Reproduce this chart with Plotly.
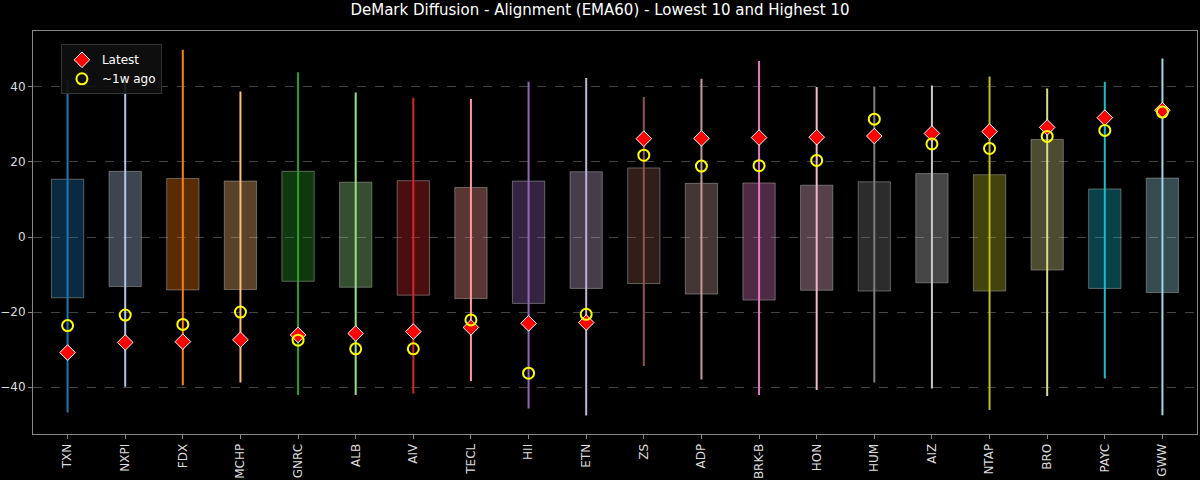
import plotly.graph_objects as go

# tickers, sorted from lowest to highest latest value
tickers = ["TXN", "NXPI", "FDX", "MCHP", "GNRC", "ALB", "AIV", "TECL", "HII", "ETN",
           "ZS", "ADP", "BRK-B", "HON", "HUM", "AIZ", "NTAP", "BRO", "PAYC", "GWW"]

# range (min / max) of each series
lowVal = [-46.8, -39.9, -39.5, -38.8, -42.1, -42.1, -41.7, -38.4, -45.7, -47.6,
          -34.4, -38.0, -42.1, -40.8, -38.8, -40.4, -46.1, -42.4, -37.7, -47.5]
highVal = [42.0, 42.5, 49.9, 38.8, 43.9, 38.5, 37.1, 36.8, 41.4, 42.4,
           37.3, 42.2, 46.9, 40.0, 40.1, 40.4, 42.8, 39.6, 41.4, 47.6]

# box (interquartile) bounds
q1Val = [-16.2, -13.2, -14.1, -14.0, -11.8, -13.4, -15.5, -16.4, -17.7, -13.7,
         -12.4, -15.2, -16.8, -14.2, -14.4, -12.2, -14.4, -8.8, -13.7, -14.8]
q3Val = [15.4, 17.5, 15.6, 14.9, 17.5, 14.6, 15.0, 13.2, 14.9, 17.4,
         18.4, 14.3, 14.4, 13.8, 14.7, 16.9, 16.6, 26.0, 12.8, 15.7]

latestVal = [-30.8, -28.1, -27.9, -27.4, -26.1, -25.7, -25.2, -24.1, -23.0, -22.8,
             26.2, 26.3, 26.5, 26.6, 26.9, 27.6, 28.1, 29.2, 31.8, 33.8]
weekAgoVal = [-23.6, -20.8, -23.3, -20.0, -27.5, -29.8, -29.8, -22.1, -36.3, -20.6,
              21.8, 18.9, 19.0, 20.4, 31.4, 24.8, 23.6, 26.8, 28.4, 33.3]

yTicks = [-40, -20, 0, 20, 40]

# tab20 palette
palette = ["#1f77b4", "#aec7e8", "#ff7f0e", "#ffbb78", "#2ca02c", "#98df8a",
           "#d62728", "#ff9896", "#9467bd", "#c5b0d5", "#8c564b", "#c49c94",
           "#e377c2", "#f7b6d2", "#7f7f7f", "#c7c7c7", "#bcbd22", "#dbdb8d",
           "#17becf", "#9edae5"]


def toRgba(hexColor, alpha):
    h = hexColor.lstrip("#")
    r, g, b = int(h[0:2], 16), int(h[2:4], 16), int(h[4:6], 16)
    return "rgba(%d,%d,%d,%.2f)" % (r, g, b, alpha)


fig = go.Figure()

fig.add_trace(go.Bar(x=tickers,
                     y=[hi - lo for lo, hi in zip(q1Val, q3Val)],
                     base=q1Val,
                     width=0.56,
                     marker=dict(color=[toRgba(c, 0.35) for c in palette],
                                 line=dict(color="rgba(190,190,190,0.45)", width=1)),
                     showlegend=False,
                     hoverinfo="skip"))

for i, t in enumerate(tickers):
    fig.add_trace(go.Scatter(x=[t, t],
                             y=[lowVal[i], highVal[i]],
                             mode="lines",
                             line=dict(color=palette[i], width=2),
                             showlegend=False,
                             hoverinfo="skip"))

fig.add_trace(go.Scatter(x=tickers,
                         y=latestVal,
                         mode="markers",
                         name="Latest",
                         marker=dict(symbol="diamond", size=12, color="red",
                                     line=dict(color="white", width=1))))
fig.add_trace(go.Scatter(x=tickers,
                         y=weekAgoVal,
                         mode="markers",
                         name="~1w ago",
                         marker=dict(symbol="circle-open", size=11, color="yellow",
                                     line=dict(color="yellow", width=2))))

fig.update_layout(
    width=1200, height=480,
    paper_bgcolor="black", plot_bgcolor="black",
    font=dict(family="DejaVu Sans", size=12, color="#dddddd"),
    title=dict(text="DeMark Diffusion - Alignment (EMA60) - Lowest 10 and Highest 10",
               x=0.5, xanchor="center", y=0.979, yanchor="middle",
               font=dict(size=15, color="white")),
    margin=dict(l=33, r=3, t=31, b=46, autoexpand=False),
    barmode="overlay",
    legend=dict(x=0.024, y=0.967, xanchor="left", yanchor="top",
                bgcolor="rgba(15,15,15,0.9)", bordercolor="#333333", borderwidth=1,
                font=dict(size=12, color="white"), itemwidth=30,
                tracegroupgap=0),
)

fig.update_xaxes(type="category", range=[-0.6, 19.6], tickangle=-90, automargin=False,
                 showgrid=False, showline=True, linecolor="#888888", mirror=True,
                 ticks="outside", ticklen=4, tickcolor="#888888",
                 tickfont=dict(size=12, color="#dddddd"), zeroline=False)
fig.update_yaxes(range=[-52.5, 54.9], tickvals=yTicks, automargin=False,
                 showgrid=True, gridcolor="#444444", griddash="dash", gridwidth=1,
                 showline=True, linecolor="#888888", mirror=True,
                 ticks="outside", ticklen=4, tickcolor="#888888",
                 tickfont=dict(size=12, color="#dddddd"), zeroline=False)

# drop the page's default body margin so the figure sits at the window corner
fig.write_html("out.html", config={"displayModeBar": False},
               post_script="document.body.style.margin='0';")
